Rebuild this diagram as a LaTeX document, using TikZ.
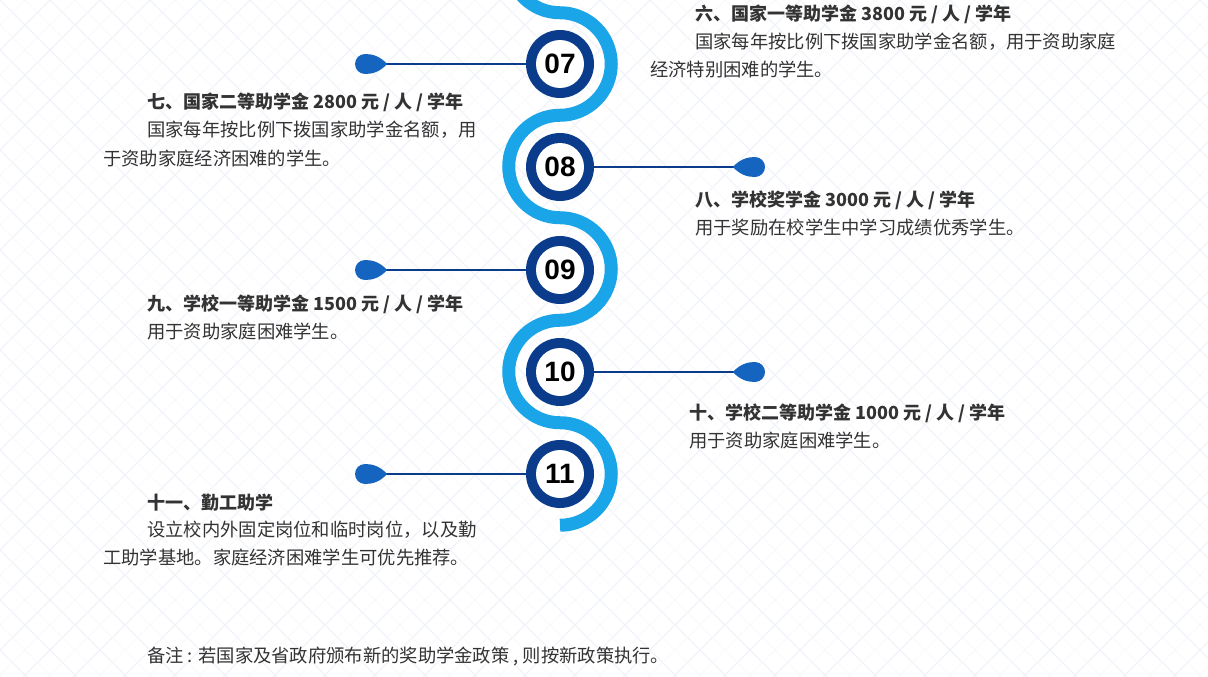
\documentclass[tikz,border=0pt]{standalone}
\usepackage{fontspec}
\usetikzlibrary{calc}
\setmainfont{Noto Sans CJK SC}
\newfontfamily\numfont{Liberation Sans}
\definecolor{dk}{HTML}{0B3C8C}
\definecolor{lb}{HTML}{1AA5E8}
\definecolor{dr}{HTML}{1565C0}
\definecolor{bgl}{HTML}{F0F4F9}
\definecolor{tx}{HTML}{333333}
\tikzset{
 hd/.style={anchor=west,inner sep=0,font=\fontsize{18}{20}\selectfont\bfseries,text=tx},
 bd/.style={anchor=west,inner sep=0,font=\fontsize{18.3}{20}\selectfont,text=tx},
 conn/.style={dk,line width=2.5pt},
 numtxt/.style={font=\numfont\fontsize{28}{29}\selectfont\bfseries,text=black,inner sep=0}
}
\begin{document}
\begin{tikzpicture}[x=1pt,y=-1pt]
\useasboundingbox (0,0) rectangle (1208,677);
\fill[white] (0,0) rectangle (1208,677);
\begin{scope}
\clip (0,0) rectangle (1208,677);
\foreach \i in {-700,-650,...,1900}{
 \draw[bgl,line width=1.2pt] (\i,0)--++(677,677);
 \draw[bgl,line width=1.2pt] (\i,0)--++(-677,677);
}
\foreach \i in {-675,-625,...,1900}{
 \draw[bgl!50,line width=0.8pt] (\i,0)--++(677,677);
 \draw[bgl!50,line width=0.8pt] (\i,0)--++(-677,677);
}
\end{scope}
% snake
\draw[lb,line width=13pt] (560,-89.75) arc(270:90:51.25) arc(-90:90:51.25) arc(270:90:51.25) arc(-90:90:51.25) arc(270:90:51.25) arc(-90:90:51.25);
% circles and connectors
\foreach \n/\y/\s in {07/64/-1,08/167/1,09/270/-1,10/372/1,11/474/-1}{
 \coordinate (c\n) at (560,\y);
 \coordinate (d\n) at (560+\s*195,\y);
 \draw[conn] (c\n) -- (d\n);
 \fill[dk] (c\n) circle (34);
 \fill[white] (c\n) circle (24);
 \node[numtxt] (n\n) at (c\n) {\n};
}
% drops
\foreach \n in {07,09,11}{
 \fill[dr] ($(d\n)+(22,0)$) .. controls +(-7,-8) and +(7,0) .. ($(d\n)+(0,-10)$) arc(270:90:10) .. controls +(7,0) and +(-7,8) .. ($(d\n)+(22,0)$);
}
\foreach \n in {08,10}{
 \fill[dr] ($(d\n)+(-22,0)$) .. controls +(7,-8) and +(-7,0) .. ($(d\n)+(0,-10)$) arc(-90:90:10) .. controls +(-7,0) and +(7,8) .. ($(d\n)+(-22,0)$);
}
% texts
\node[hd] (h6) at (695,14) {六、国家一等助学金 3800 元 / 人 / 学年};
\node[bd] (b6a) at (695,42) {国家每年按比例下拨国家助学金名额，用于资助家庭};
\node[bd] (b6b) at (650,70) {经济特别困难的学生。};
\node[hd] (h7) at (147,102) {七、国家二等助学金 2800 元 / 人 / 学年};
\node[bd] (b7a) at (147,130) {国家每年按比例下拨国家助学金名额，用};
\node[bd] (b7b) at (103,158) {于资助家庭经济困难的学生。};
\node[hd] (h8) at (695,200) {八、学校奖学金 3000 元 / 人 / 学年};
\node[bd] (b8) at (695,228) {用于奖励在校学生中学习成绩优秀学生。};
\node[hd] (h9) at (147,304) {九、学校一等助学金 1500 元 / 人 / 学年};
\node[bd] (b9) at (147,332) {用于资助家庭困难学生。};
\node[hd] (h10) at (689,413) {十、学校二等助学金 1000 元 / 人 / 学年};
\node[bd] (b10) at (689,441) {用于资助家庭困难学生。};
\node[hd] (h11) at (147,503) {十一、勤工助学};
\node[bd] (b11a) at (147,530) {设立校内外固定岗位和临时岗位，以及勤};
\node[bd] (b11b) at (103,558) {工助学基地。家庭经济困难学生可优先推荐。};
\node[bd] (note) at (147,656) {备注 : 若国家及省政府颁布新的奖助学金政策 , 则按新政策执行。};
\end{tikzpicture}
\end{document}
